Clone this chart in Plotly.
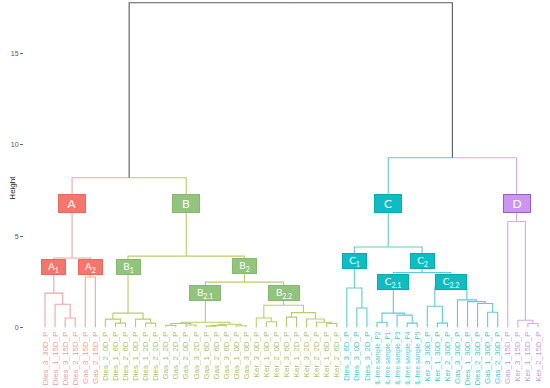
import plotly.graph_objects as go

# ---------------- data ----------------
leaf_labels = [
    "Dies_3_30D_P", "Dies_1_15D_P", "Dies_3_15D_P", "Dies_2_15D_P", "Gas_3_15D_P", "Gas_2_15D_P",
    "Dies_2_0D_P", "Dies_1_6D_P", "Dies_2_6D_P", "Dies_1_0D_P", "Dies_1_2D_P", "Dies_2_2D_P",
    "Gas_1_2D_P", "Gas_2_2D_P", "Gas_2_0D_P", "Gas_3_2D_P", "Gas_1_6D_P", "Gas_2_6D_P",
    "Gas_3_6D_P", "Gas_1_0D_P", "Gas_3_0D_P",
    "Ker_3_0D_P", "Ker_1_0D_P", "Ker_2_0D_P", "Ker_3_6D_P", "Ker_1_2D_P", "Ker_3_2D_P",
    "Ker_2_2D_P", "Ker_1_6D_P", "Ker_2_6D_P",
    "Dies_3_6D_P", "Dies_3_0D_P", "Dies_3_2D_P",
    "IL-free sample_P2", "IL-free sample_P1", "IL-free sample_P3", "IL-free sample_P4", "IL-free sample_P5",
    "Ker_3_30D_P", "Ker_1_30D_P", "Ker_2_30D_P", "Gas_3_30D_P", "Dies_1_30D_P", "Dies_2_30D_P",
    "Gas_1_30D_P", "Gas_2_30D_P",
    "Gas_1_15D_P", "Ker_3_15D_P", "Ker_1_15D_P", "Ker_2_15D_P",
]
leaf_cluster = ["A"] * 6 + ["B"] * 24 + ["C"] * 16 + ["D"] * 4

# merges: name, left child, right child (leaf index or node name), height
node_names = ["a1", "a2", "A1", "A2", "A",
              "b1a", "b1b", "b1c", "b1d", "B1",
              "g1", "g2", "g3", "g4", "g5", "g6", "g7", "B2.1",
              "k1", "k2", "k3", "k4", "k5", "k6", "k7", "B2.2",
              "B2", "B", "AB",
              "c1a", "C1", "ila", "ilb", "ilc", "C2.1",
              "cc1", "cc2", "cc3", "cc4", "cc5", "cc6", "C2.2", "C2", "C",
              "d1", "d2", "D", "CD", "root"]
node_left = [2, 1, 0, 4, "A1",
             7, 6, 10, 9, "b1b",
             12, 14, "g1", 16, "g4", 19, "g5", "g3",
             22, 21, 24, 28, 27, 26, "k3", "k2",
             "B2.1", "B1", "A",
             31, 30, 33, 36, 35, "ila",
             39, 38, 44, 43, 42, 41, "cc2", "C2.1", "C1",
             48, 47, 46, "C", "AB"]
node_right = [3, "a1", "a2", 5, "A2",
              8, "b1a", 11, "b1c", "b1d",
              13, 15, "g2", 17, 18, 20, "g6", "g7",
              23, "k1", 25, 29, "k4", "k5", "k6", "k7",
              "B2.2", "B2", "B",
              32, "c1a", 34, 37, "ilb", "ilc",
              40, "cc1", 45, "cc3", "cc4", "cc5", "cc6", "C2.2", "C2",
              49, "d1", "d2", "D", "CD"]
node_heights = [0.5, 1.26, 1.87, 2.75, 3.8,
                0.22, 0.44, 0.22, 0.44, 0.77,
                0.10, 0.12, 0.20, 0.06, 0.10, 0.08, 0.16, 0.27,
                0.30, 0.50, 0.55, 0.20, 0.27, 0.45, 0.80, 1.20,
                2.47, 3.9, 8.2,
                1.05, 2.15, 0.27, 0.22, 0.66, 0.77,
                0.22, 1.15, 0.82, 1.30, 1.40, 1.50, 2.20, 3.0, 4.4,
                0.20, 0.38, 5.8, 9.3, 17.8]

box_nodes = ["A", "B", "C", "D", "A1", "A2", "B1", "B2", "B2.1", "B2.2", "C1", "C2", "C2.1", "C2.2"]
box_texts = ["A", "B", "C", "D", "A<sub>1</sub>", "A<sub>2</sub>", "B<sub>1</sub>", "B<sub>2</sub>",
             "B<sub>2.1</sub>", "B<sub>2.2</sub>", "C<sub>1</sub>", "C<sub>2</sub>",
             "C<sub>2.1</sub>", "C<sub>2.2</sub>"]
y_ticks = [0, 5, 10, 15]

# ---------------- styling ----------------
line_col = {"A": "#F4A3A3", "B": "#B5CD6C", "C": "#5ACDD3", "D": "#D6A8EC", None: "#5A5A5A"}
text_col = {"A": "#F09A9A", "B": "#A8C25A", "C": "#3EC6CD", "D": "#C896E6"}
box_fill = {"A": "#F4766C", "B": "#93C47D", "C": "#0FBCC3", "D": "#CD95F2"}
box_line = {"A": "#E8675E", "B": "#86B870", "C": "#0AA9B0", "D": "#9A5AC8"}
box_y = {"A": 6.8, "B": 6.8, "C": 6.8, "D": 6.8, "A1": 3.3, "A2": 3.3, "B1": 3.3, "B2": 3.35,
         "B2.1": 1.87, "B2.2": 1.87, "C1": 3.62, "C2": 3.65, "C2.1": 2.5, "C2.2": 2.5}

# ---------------- compute tree geometry ----------------
pos = {}
for i in range(len(leaf_labels)):
    pos[i] = (float(i), 0.0, leaf_cluster[i])

segs = {}
for name, l, r, h in zip(node_names, node_left, node_right, node_heights):
    lx, lh, lc = pos[l]
    rx, rh, rc = pos[r]
    nx = (lx + rx) / 2
    nc = lc if lc == rc else None
    for cx, ch, cc in ((lx, lh, lc), (rx, rh, rc)):
        s = segs.setdefault(cc, ([], []))
        s[0].extend([cx, cx, nx, None])
        s[1].extend([ch, h, h, None])
    pos[name] = (nx, h, nc)

fig = go.Figure()
for cc, (xs, ys) in segs.items():
    fig.add_trace(go.Scatter(x=xs, y=ys, mode="lines",
                             line=dict(color=line_col[cc], width=1.1),
                             hoverinfo="skip", showlegend=False))

for nm, tx in zip(box_nodes, box_texts):
    x, _, c = pos[nm]
    big = len(nm) == 1
    wide = "." in nm
    fig.add_annotation(x=x, y=box_y[nm], xref="x", yref="y", text=tx, showarrow=False,
                       font=dict(family="Lato, Open Sans, sans-serif", size=12 if big else 10, color="white"),
                       bgcolor=box_fill[c], bordercolor=box_line[c], borderwidth=1,
                       width=26 if big else (30 if wide else 23), height=17 if big else 14,
                       borderpad=0, align="center", valign="middle")

fig.add_annotation(x=-0.034, y=0.43, xref="paper", yref="paper", text="Height", textangle=-90,
                   showarrow=False, font=dict(family="Liberation Sans, Arial, sans-serif", size=8, color="#222"))

ticktext = []
for t, c in zip(leaf_labels, leaf_cluster):
    fs = "font-size:6.5px;" if len(t) > 14 else ""
    ticktext.append(f"<span style='color:{text_col[c]};{fs}'>{t}</span>")

fig.update_layout(
    width=550, height=388,
    margin=dict(l=24, r=2, t=1, b=59),
    paper_bgcolor="white", plot_bgcolor="white",
    xaxis=dict(range=[-2.09, 50.0], tickmode="array", tickvals=list(range(len(leaf_labels))),
               ticktext=ticktext, tickangle=-90, showgrid=False, zeroline=False, showline=False,
               automargin=False,
               ticks="", tickfont=dict(family="Liberation Sans, Arial, sans-serif", size=8)),
    yaxis=dict(range=[-0.1, 17.9], tickmode="array", tickvals=y_ticks, automargin=False,
               ticktext=[str(v) for v in y_ticks], showgrid=False, zeroline=False, showline=False,
               ticks="outside", ticklen=3, tickcolor="#666", tickwidth=1,
               tickfont=dict(family="Liberation Sans, Arial, sans-serif", size=7, color="#555")),
)

fig.write_html("out.html", config={"displayModeBar": False},
               post_script="document.body.style.margin='0';document.body.style.overflow='hidden';")
